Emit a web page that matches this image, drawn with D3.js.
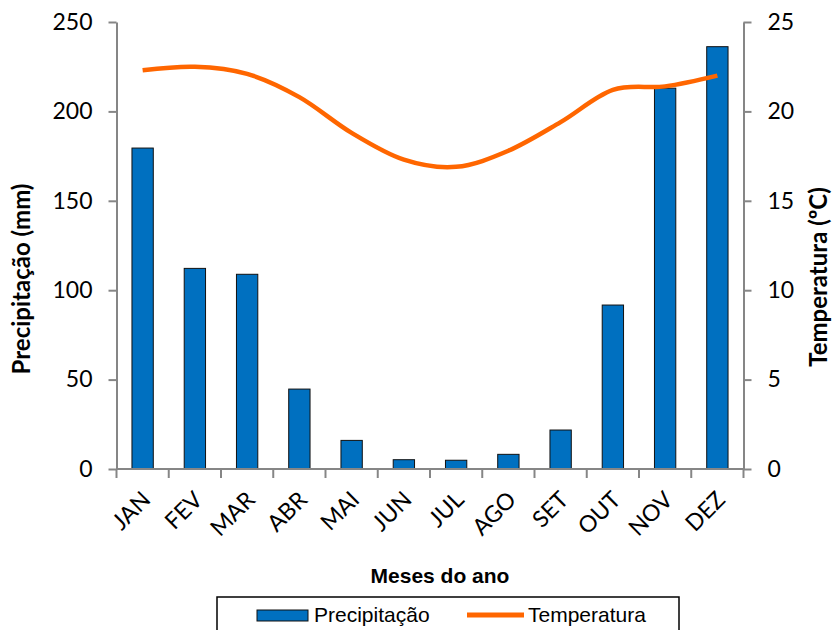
<!DOCTYPE html>
<html>
<head>
<meta charset="utf-8">
<script src="https://cdn.jsdelivr.net/npm/d3@7"></script>
<style>
  body { margin: 0; background: #fff; }
  svg { display: block; }
</style>
</head>
<body>
<div id="chart"></div>
<script>
// data
const months = ["JAN", "FEV", "MAR", "ABR", "MAI", "JUN", "JUL", "AGO", "SET", "OUT", "NOV", "DEZ"];
const precipitacao = [179.5, 112.2, 108.9, 44.7, 16, 5.2, 4.9, 8.2, 21.8, 91.7, 213, 236.2];
const temperatura = [22.3, 22.5, 22.1, 20.8, 18.8, 17.3, 16.9, 17.8, 19.4, 21.2, 21.4, 22.0];
const precipTicks = [0, 50, 100, 150, 200, 250];
const tempTicks = [0, 5, 10, 15, 20, 25];

const W = 832, H = 630;
const plot = { left: 116.5, right: 743.5, top: 22, bottom: 469 };
const numFont = "Lato, 'Open Sans', sans-serif";
const arial = "'Liberation Sans', Arial, sans-serif";
const axisGray = "#868686";

const svg = d3.select("#chart").append("svg")
    .attr("width", W).attr("height", H);

const x = d3.scaleBand().domain(months).range([plot.left, plot.right]).paddingInner(0).paddingOuter(0);
const yL = d3.scaleLinear().domain([0, 250]).range([plot.bottom, plot.top]);
const yR = d3.scaleLinear().domain([0, 25]).range([plot.bottom, plot.top]);

// bars
const barW = x.bandwidth() / 2.45;
svg.append("g").selectAll("rect")
    .data(precipitacao)
    .join("rect")
    .attr("x", (d, i) => x(months[i]) + (x.bandwidth() - barW) / 2)
    .attr("y", d => yL(d))
    .attr("width", barW)
    .attr("height", d => yL(0) - yL(d))
    .attr("fill", "#0070C0")
    .attr("stroke", "#111")
    .attr("stroke-width", 1);

// axes
function styleAxis(g) {
    g.select(".domain").attr("stroke", axisGray).attr("stroke-width", 2);
    g.selectAll(".tick line").attr("stroke", axisGray).attr("stroke-width", 2);
    g.selectAll("text").attr("font-family", numFont).attr("font-size", 23).attr("fill", "#000");
}

const leftAxis = svg.append("g")
    .attr("transform", `translate(${plot.left},0)`)
    .call(d3.axisLeft(yL).tickValues(precipTicks).tickSize(8).tickSizeOuter(0).tickPadding(16));
styleAxis(leftAxis);

const rightAxis = svg.append("g")
    .attr("transform", `translate(${plot.right},0)`)
    .call(d3.axisRight(yR).tickValues(tempTicks).tickSize(8).tickSizeOuter(0).tickPadding(16));
styleAxis(rightAxis);

// bottom axis: ticks on band edges
const bottom = svg.append("g");
bottom.append("line")
    .attr("x1", plot.left).attr("x2", plot.right)
    .attr("y1", plot.bottom).attr("y2", plot.bottom)
    .attr("stroke", axisGray).attr("stroke-width", 2);
bottom.selectAll("line.tk")
    .data(months.concat(["end"]))
    .join("line")
    .attr("class", "tk")
    .attr("x1", (d, i) => plot.left + i * x.bandwidth())
    .attr("x2", (d, i) => plot.left + i * x.bandwidth())
    .attr("y1", plot.bottom).attr("y2", plot.bottom + 9)
    .attr("stroke", axisGray).attr("stroke-width", 2);
bottom.selectAll("text")
    .data(months)
    .join("text")
    .attr("transform", d => `translate(${x(d) + x.bandwidth() / 2 - 3},${plot.bottom + 20}) rotate(-45)`)
    .attr("text-anchor", "end")
    .attr("dy", "0.75em")
    .attr("font-family", numFont)
    .attr("font-size", 23)
    .text(d => d);

// temperature line
const line = d3.line()
    .x((d, i) => x(months[i]) + x.bandwidth() / 2)
    .y(d => yR(d))
    .curve(d3.curveCatmullRom.alpha(0));
svg.append("path")
    .datum(temperatura)
    .attr("d", line)
    .attr("fill", "none")
    .attr("stroke", "#FF6600")
    .attr("stroke-width", 4.5);

// axis titles
svg.append("text")
    .attr("transform", `translate(30,279) rotate(-90)`)
    .attr("text-anchor", "middle")
    .attr("font-family", numFont)
    .attr("font-weight", "bold")
    .attr("font-size", 24)
    .text("Precipitação (mm)");

svg.append("text")
    .attr("transform", `translate(827,277) rotate(-90)`)
    .attr("text-anchor", "middle")
    .attr("font-family", numFont)
    .attr("font-weight", "bold")
    .attr("font-size", 24)
    .text("Temperatura (ºC)");

svg.append("text")
    .attr("x", 440).attr("y", 583)
    .attr("text-anchor", "middle")
    .attr("font-family", arial)
    .attr("font-weight", "bold")
    .attr("font-size", 21)
    .text("Meses do ano");

// legend
const legend = svg.append("g");
legend.append("rect")
    .attr("x", 217).attr("y", 597)
    .attr("width", 462).attr("height", 50)
    .attr("fill", "none").attr("stroke", "#000").attr("stroke-width", 1.5);
legend.append("rect")
    .attr("x", 257).attr("y", 610).attr("width", 51).attr("height", 11)
    .attr("fill", "#0070C0").attr("stroke", "#111").attr("stroke-width", 1);
legend.append("text")
    .attr("x", 314).attr("y", 622)
    .attr("font-family", arial)
    .attr("font-size", 21)
    .text("Precipitação");
legend.append("line")
    .attr("x1", 467).attr("x2", 524).attr("y1", 615).attr("y2", 615)
    .attr("stroke", "#FF6600").attr("stroke-width", 5);
legend.append("text")
    .attr("x", 528).attr("y", 622)
    .attr("font-family", arial)
    .attr("font-size", 21)
    .text("Temperatura");
</script>
</body>
</html>
